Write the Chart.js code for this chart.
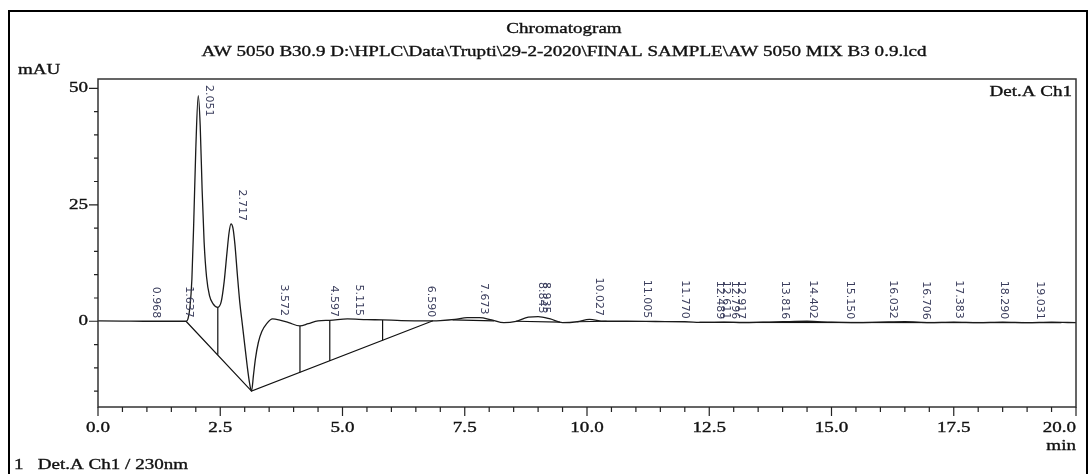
<!DOCTYPE html>
<html>
<head>
<meta charset="utf-8">
<script src="https://cdn.jsdelivr.net/npm/chart.js@4.4.1/dist/chart.umd.min.js"></script>
<style>
  html, body { margin: 0; padding: 0; background: #ffffff; }
  #wrap { width: 1089px; height: 474px; position: relative; }
</style>
</head>
<body>
<div id="wrap"><canvas id="chrom"></canvas></div>
<script>
// Detector trace (min, mAU)
const traceTime = [
  0.0, 0.5, 1.0, 1.5, 1.80, 1.84, 1.88, 1.92, 1.96, 2.00, 2.05, 2.09, 2.13, 2.17,
  2.22, 2.28, 2.35, 2.45, 2.52, 2.58, 2.64, 2.68, 2.72, 2.76, 2.80, 2.85, 2.90,
  2.95, 3.00, 3.05, 3.10, 3.14, 3.18, 3.22, 3.28, 3.35, 3.45, 3.57, 3.70, 3.90,
  4.13, 4.30, 4.50, 4.74, 5.10, 5.50, 5.82, 6.20, 6.85, 7.0, 7.3, 7.55, 7.8,
  8.05, 8.3, 8.55, 8.8, 9.0, 9.25, 9.5, 9.8, 10.05, 10.35, 10.8, 11.4, 12.0,
  12.4, 12.8, 13.2, 13.6, 14.0, 14.5, 15.0, 15.5, 16.0, 16.5, 17.0, 17.5, 18.0,
  18.5, 19.0, 19.5, 20.0
];
const traceSignal = [
  0.1, 0.05, 0.0, 0.0, 0.0, 0.5, 3.0, 9.0, 22.0, 37.0, 48.4, 42.0, 28.0, 17.0,
  9.5, 5.5, 3.8, 3.0, 4.2, 8.5, 15.0, 19.0, 20.9, 20.0, 16.5, 10.0, 4.0,
  -0.5, -5.0, -9.5, -13.3, -15.0, -11.5, -8.0, -4.5, -2.2, -0.5, 0.5, 0.3, -0.3,
  -1.0, -0.5, 0.1, 0.2, 0.5, 0.35, 0.3, 0.15, 0.1, 0.15, 0.4, 0.8, 0.8,
  0.3, -0.3, 0.0, 0.9, 1.0, 0.5, -0.3, -0.1, 0.4, 0.0, 0.0, -0.05, -0.1,
  -0.25, -0.2, -0.3, -0.2, -0.1, 0.0, -0.2, -0.3, -0.2, -0.1, -0.3, -0.2, -0.3,
  -0.2, -0.3, -0.2, -0.3
];

// Integration baselines (null = break)
const baseTime  = [1.80, 3.14, 6.85, null, 7.25, 8.10, null, 8.55, 9.45, null, 9.80, 10.40, null, 12.30, 19.70];
const baseLevel = [0.0, -15.0, 0.1, null, 0.3, 0.1, null, 0.0, -0.2, null, -0.1, 0.0, null, -0.25, -0.3];

// Peak separation drop lines
const dropTime   = [2.45, 4.13, 4.74, 5.82];
const dropTop    = [3.0, -1.0, 0.2, 0.3];
const dropBottom = [-7.2, -11.0, -8.5, -4.1];

// Retention time labels and the signal level at each apex
const peakTimes = ['0.968', '1.637', '2.051', '2.717', '3.572', '4.597', '5.115', '6.590', '7.673',
  '8.845', '8.935', '10.027', '11.005', '11.770', '12.489', '12.611', '12.796', '12.917',
  '13.816', '14.402', '15.150', '16.032', '16.706', '17.383', '18.290', '19.031'];
const peakLevels = [0.0, 0.1, 48.4, 20.9, 0.5, 0.3, 0.5, 0.2, 0.8,
  1.0, 1.0, 0.5, 0.0, -0.1, -0.2, -0.2, -0.2, -0.2,
  -0.2, -0.1, -0.2, -0.1, -0.3, -0.1, -0.2, -0.3];

// Axis ticks
const yMajorTicks = [0, 25, 50];
const yMinorTicks = [-15, -10, -5, 5, 10, 15, 20, 30, 35, 40, 45];
const xMajorTicks = [0.0, 2.5, 5.0, 7.5, 10.0, 12.5, 15.0, 17.5, 20.0];

const traceData = traceTime.map((t, i) => ({ x: t, y: traceSignal[i] }));
const baseData = baseTime.map((t, i) => ({ x: t === null ? NaN : t, y: baseLevel[i] }));
const dropData = [];
dropTime.forEach((t, i) => {
  dropData.push({ x: t, y: dropTop[i] }, { x: t, y: dropBottom[i] }, { x: t, y: null });
});

const serif = '"Liberation Serif", "Times New Roman", serif';

// printer style text: serif glyphs stretched a little wider
function wideText(ctx, text, x, y, align) {
  ctx.save();
  ctx.translate(x, y);
  ctx.scale(1.27, 1);
  ctx.textAlign = align;
  ctx.strokeText(text, 0, 0);
  ctx.fillText(text, 0, 0);
  ctx.restore();
}

const chromDecor = {
  id: 'chromDecor',
  afterDraw(chart) {
    const ctx = chart.ctx;
    const area = chart.chartArea;
    const xs = chart.scales.x;
    const ys = chart.scales.y;
    ctx.save();

    // outer frame
    ctx.strokeStyle = '#000';
    ctx.lineWidth = 2;
    ctx.beginPath();
    ctx.moveTo(9, 474);
    ctx.lineTo(9, 11);
    ctx.lineTo(1087, 11);
    ctx.lineTo(1087, 474);
    ctx.stroke();

    // plot box
    ctx.strokeStyle = '#333';
    ctx.lineWidth = 1.5;
    ctx.strokeRect(area.left, area.top, area.right - area.left, area.bottom - area.top);

    // y ticks
    ctx.lineWidth = 1.2;
    ctx.strokeStyle = '#222';
    ctx.beginPath();
    yMajorTicks.forEach(v => {
      const y = ys.getPixelForValue(v);
      ctx.moveTo(area.left - 9, y); ctx.lineTo(area.left, y);
    });
    yMinorTicks.forEach(v => {
      const y = ys.getPixelForValue(v);
      ctx.moveTo(area.left - 4, y); ctx.lineTo(area.left, y);
    });
    // x ticks
    for (let v = 0; v <= 20.001; v += 0.5) {
      const x = xs.getPixelForValue(v);
      const major = xMajorTicks.some(m => Math.abs(m - v) < 1e-6);
      ctx.moveTo(x, area.bottom); ctx.lineTo(x, area.bottom + (major ? 9 : 5));
    }
    ctx.stroke();

    ctx.fillStyle = '#111';
    ctx.strokeStyle = '#111';
    ctx.lineWidth = 0.35;
    ctx.font = '15px ' + serif;
    ctx.textBaseline = 'middle';
    yMajorTicks.forEach(v => {
      wideText(ctx, String(v), area.left - 10, ys.getPixelForValue(v), 'right');
    });
    xMajorTicks.forEach((v, i) => {
      const x = xs.getPixelForValue(v);
      wideText(ctx, v.toFixed(1), x, area.bottom + 21, i === xMajorTicks.length - 1 ? 'right' : 'center');
    });

    // headings and notes
    wideText(ctx, 'Chromatogram', 564, 29, 'center');
    wideText(ctx, 'AW 5050 B30.9 D:\\HPLC\\Data\\Trupti\\29-2-2020\\FINAL SAMPLE\\AW 5050 MIX B3 0.9.lcd', 564, 52, 'center');
    wideText(ctx, 'mAU', 18, 70, 'left');
    wideText(ctx, '1   Det.A Ch1 / 230nm', 14, 465, 'left');
    wideText(ctx, 'Det.A Ch1', area.right - 4, 92, 'right');
    wideText(ctx, 'min', area.right, 446, 'right');

    // retention time labels, rotated
    ctx.font = '11px "DejaVu Sans", sans-serif';
    ctx.fillStyle = '#3a3d5c';
    ctx.textAlign = 'left';
    ctx.textBaseline = 'middle';
    peakTimes.forEach((label, i) => {
      const x = xs.getPixelForValue(parseFloat(label)) + 11;
      const w = ctx.measureText(label).width;
      const bottom = ys.getPixelForValue(peakLevels[i]) - 3;
      const top = Math.max(bottom - w, area.top + 6);
      ctx.save();
      ctx.translate(x, top);
      ctx.rotate(Math.PI / 2);
      ctx.fillText(label, 0, 0);
      ctx.restore();
    });

    ctx.restore();
  }
};

new Chart(document.getElementById('chrom'), {
  type: 'line',
  data: {
    datasets: [
      {
        label: 'Det.A Ch1',
        data: traceData,
        borderColor: '#1a1a1a',
        borderWidth: 1.3,
        pointRadius: 0,
        cubicInterpolationMode: 'monotone',
        fill: false
      },
      {
        label: 'baseline',
        data: baseData,
        borderColor: '#111',
        borderWidth: 1.2,
        pointRadius: 0,
        tension: 0,
        spanGaps: false,
        fill: false
      },
      {
        label: 'drop',
        data: dropData,
        borderColor: '#111',
        borderWidth: 1.2,
        pointRadius: 0,
        tension: 0,
        spanGaps: false,
        fill: false
      }
    ]
  },
  options: {
    responsive: true,
    maintainAspectRatio: false,
    animation: false,
    events: [],
    layout: { padding: { left: 98, top: 79, right: 13, bottom: 67 } },
    scales: {
      x: { type: 'linear', min: 0, max: 20, display: false },
      y: { type: 'linear', min: -18.4, max: 52, display: false }
    },
    plugins: {
      legend: { display: false },
      tooltip: { enabled: false },
      title: { display: false }
    }
  },
  plugins: [chromDecor]
});
</script>
</body>
</html>
